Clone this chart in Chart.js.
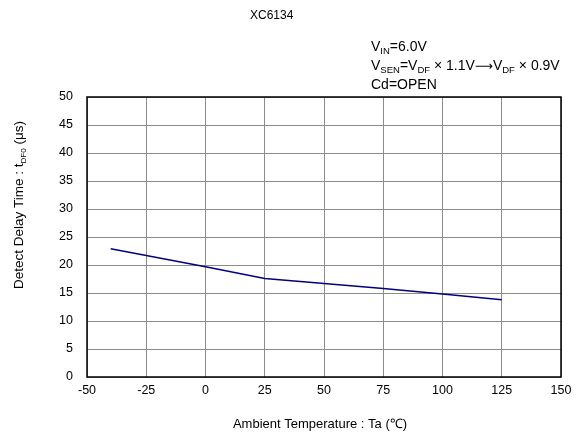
<!DOCTYPE html>
<html>
<head>
<meta charset="UTF-8">
<title>XC6134</title>
<script src="https://cdn.jsdelivr.net/npm/chart.js"></script>
<style>
    html, body { margin: 0; padding: 0; background: #fff; }
    .wrap { width: 578px; height: 437px; position: relative; }
</style>
</head>
<body>
<div class="wrap"><canvas id="chart" width="578" height="437"></canvas></div>
<script>
    // data
    const temps = [-40, -25, 0, 25, 50, 75, 100, 125];
    const delays = [22.9, 21.7, 19.7, 17.6, 16.7, 15.8, 14.8, 13.8];
    const xTicks = [-50, -25, 0, 25, 50, 75, 100, 125, 150];
    const yTicks = [0, 5, 10, 15, 20, 25, 30, 35, 40, 45, 50];

    const FONT = 'Arial, "Liberation Sans", sans-serif';
    const ARROW_FONT = '"DejaVu Sans", sans-serif';

    // text pieces: [text, kind]  n = normal, s = subscript, a = arrow
    const noteLines = [
        [['V', 'n'], ['IN', 's'], ['=6.0V', 'n']],
        [['V', 'n'], ['SEN', 's'], ['=V', 'n'], ['DF', 's'], [' \u00d7 1.1V', 'n'], ['\u27f6', 'a'], ['V', 'n'], ['DF', 's'], [' \u00d7 0.9V', 'n']],
        [['Cd=OPEN', 'n']]
    ];
    const yTitle = [['Detect Delay Time : t', 'n'], ['DF0', 's'], [' (\u03bcs)', 'n']];
    const xTitle = 'Ambient Temperature : Ta (\u2103)';

    function setFont(ctx, kind, size, subScale) {
        if (kind === 's') ctx.font = (size * subScale) + 'px ' + FONT;
        else if (kind === 'a') ctx.font = (size * 0.9) + 'px ' + ARROW_FONT;
        else ctx.font = size + 'px ' + FONT;
    }
    function drawPieces(ctx, pieces, x, y, size, subScale) {
        for (const [txt, kind] of pieces) {
            setFont(ctx, kind, size, subScale);
            ctx.fillText(txt, x, kind === 's' ? y + size * 0.2 : y);
            x += ctx.measureText(txt).width;
        }
    }
    function piecesWidth(ctx, pieces, size, subScale) {
        let w = 0;
        for (const [txt, kind] of pieces) {
            setFont(ctx, kind, size, subScale);
            w += ctx.measureText(txt).width;
        }
        return w;
    }

    const textPlugin = {
        id: 'texts',
        afterDraw(chart) {
            const ctx = chart.ctx;
            const a = chart.chartArea;
            ctx.save();
            ctx.fillStyle = '#000';
            ctx.textBaseline = 'alphabetic';
            ctx.textAlign = 'left';
            ctx.font = '12px ' + FONT;
            ctx.fillText('XC6134', 250, 19);

            noteLines.forEach((line, i) => drawPieces(ctx, line, 371, 51 + i * 19, 14, 0.68));

            ctx.textAlign = 'center';
            ctx.font = '13px ' + FONT;
            ctx.fillText(xTitle, 320, 428);
            ctx.textAlign = 'left';

            // rotated y axis title
            const w = piecesWidth(ctx, yTitle, 13.5, 0.6);
            ctx.translate(23, 205 + w / 2);
            ctx.rotate(-Math.PI / 2);
            drawPieces(ctx, yTitle, 0, 0, 13.5, 0.6);
            ctx.restore();

            // frame
            ctx.save();
            ctx.strokeStyle = '#000';
            ctx.lineWidth = 1.5;
            ctx.strokeRect(a.left, a.top, a.right - a.left, a.bottom - a.top);
            ctx.restore();
        }
    };

    new Chart(document.getElementById('chart'), {
        type: 'scatter',
        data: {
            datasets: [{
                data: temps.map((t, i) => ({ x: t, y: delays[i] })),
                showLine: true,
                borderColor: '#000080',
                borderWidth: 1.5,
                pointRadius: 0,
                tension: 0
            }]
        },
        options: {
            responsive: false,
            animation: false,
            layout: { padding: { left: 0, top: 97, right: 17, bottom: 0 } },
            plugins: { legend: { display: false }, tooltip: { enabled: false } },
            scales: {
                x: {
                    type: 'linear',
                    min: -50, max: 150,
                    afterBuildTicks: s => { s.ticks = xTicks.map(v => ({ value: v })); },
                    afterFit: s => { s.height = 60; },
                    grid: { color: '#8c8c8c', lineWidth: 1, drawTicks: false },
                    border: { display: false },
                    ticks: { color: '#000', font: { family: FONT, size: 12.5 }, padding: 6, maxRotation: 0 }
                },
                y: {
                    min: 0, max: 50,
                    afterBuildTicks: s => { s.ticks = yTicks.map(v => ({ value: v })); },
                    afterFit: s => { s.width = 87; },
                    grid: { color: '#8c8c8c', lineWidth: 1, drawTicks: false },
                    border: { display: false },
                    ticks: { color: '#000', font: { family: FONT, size: 12.5 }, padding: 14 }
                }
            }
        },
        plugins: [textPlugin]
    });
</script>
</body>
</html>
